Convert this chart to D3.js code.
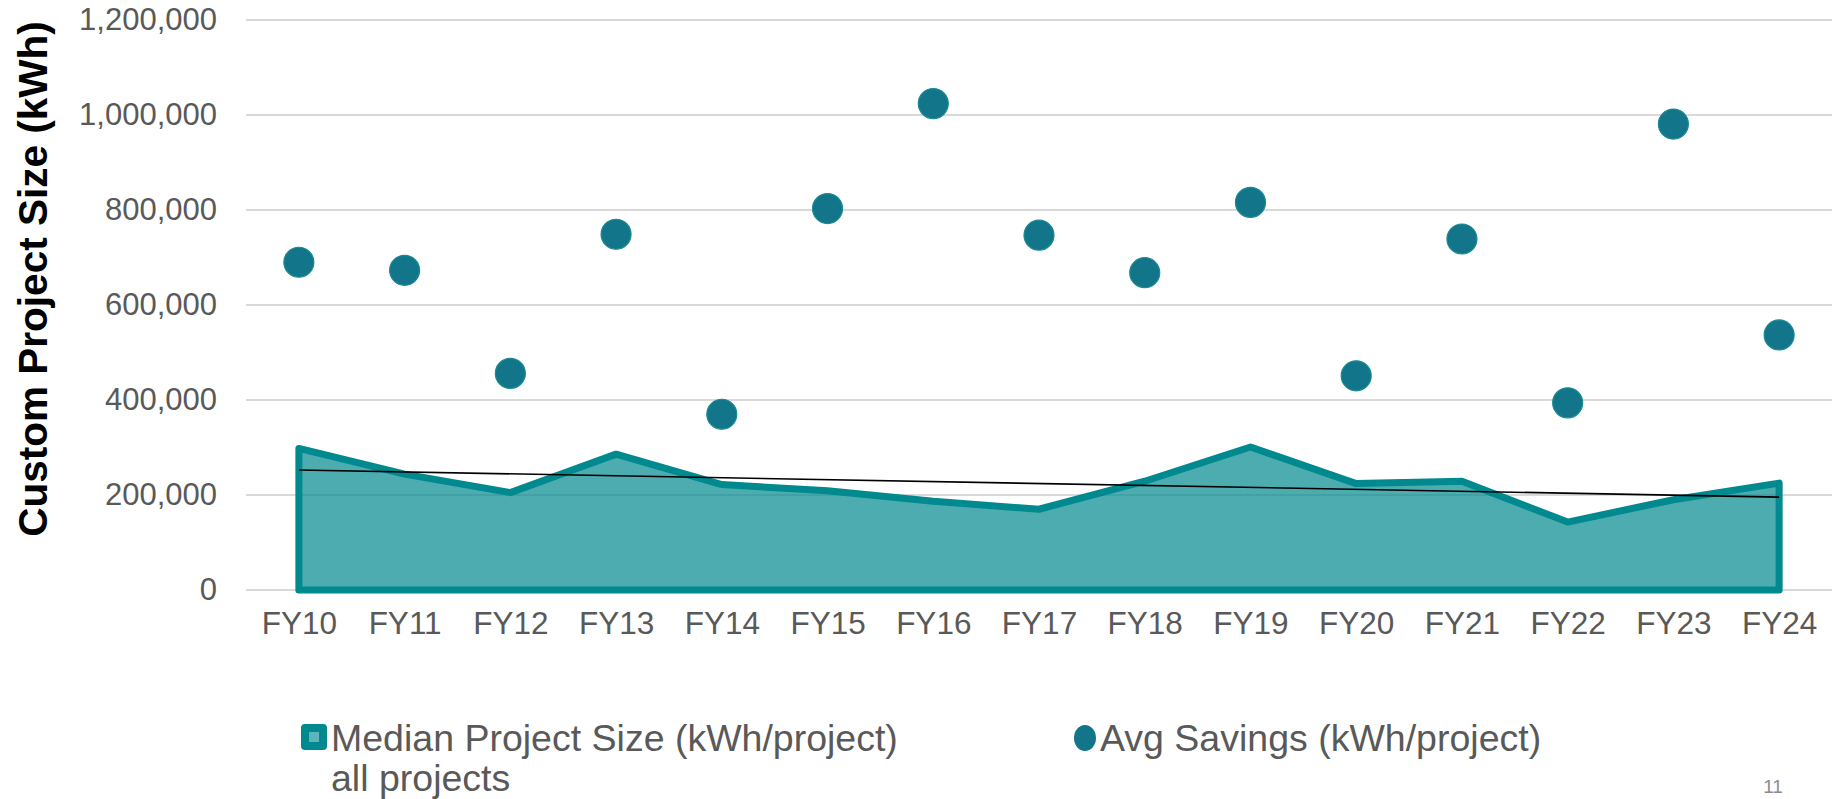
<!DOCTYPE html>
<html>
<head>
<meta charset="utf-8">
<script src="https://cdn.jsdelivr.net/npm/d3@7"></script>
<style>
  body { margin: 0; background: #fff; }
  svg { display: block; font-family: "Liberation Sans", Arial, sans-serif; }
</style>
</head>
<body>
<div id="main-chart"></div>
<script>
var years = ["FY10", "FY11", "FY12", "FY13", "FY14", "FY15", "FY16", "FY17",
  "FY18", "FY19", "FY20", "FY21", "FY22", "FY23", "FY24"];
var medianSize = [298000, 244000, 205000, 286000, 222000, 209000, 187000, 170000,
  229000, 301000, 224000, 229000, 143000, 190000, 225000];
var avgSavings = [690000, 673000, 456000, 749000, 370000, 803000, 1024000, 747000,
  668000, 816000, 451000, 739000, 394000, 981000, 537000];
var yTicks = [0, 200000, 400000, 600000, 800000, 1000000, 1200000];
var legendLabels = ["Median Project Size (kWh/project)", "all projects", "Avg Savings (kWh/project)"];

var width = 1835, height = 799;
var svg, x, y;

function setup() {
  svg = d3.select("#main-chart")
    .append("svg")
    .attr("width", width)
    .attr("height", height);

  x = d3.scalePoint().domain(years).range([246, 1832]).padding(0.5);
  y = d3.scaleLinear().domain([0, 1200000]).range([590, 20]);
}

function axes() {
  // gridlines
  svg.append("g")
    .selectAll("line")
    .data(yTicks)
    .enter()
    .append("line")
    .attr("x1", 246)
    .attr("x2", 1832)
    .attr("y1", d => y(d))
    .attr("y2", d => y(d))
    .style("stroke", "#d9d9d9")
    .style("stroke-width", 2);

  var yAxis = svg.append("g")
    .attr("transform", "translate(217,0)")
    .call(d3.axisLeft(y).tickValues(yTicks).tickSize(0).tickPadding(0).tickFormat(d3.format(",")));
  yAxis.select(".domain").remove();
  yAxis.selectAll("text")
    .style("font-size", "31px")
    .style("fill", "#595959")
    .style("font-family", "Liberation Sans, Arial, sans-serif");

  var xAxis = svg.append("g")
    .attr("transform", "translate(0,612)")
    .call(d3.axisBottom(x).tickSize(0).tickPadding(0));
  xAxis.select(".domain").remove();
  xAxis.selectAll("text")
    .style("font-size", "31.5px")
    .style("fill", "#595959")
    .style("font-family", "Liberation Sans, Arial, sans-serif");

  svg.append("text")
    .attr("transform", "translate(47,279) rotate(-90)")
    .attr("text-anchor", "middle")
    .style("font-size", "40.5px")
    .style("font-weight", "bold")
    .style("fill", "#000")
    .text("Custom Project Size (kWh)");
}

function series() {
  var pts = years.map((d, i) => ({ year: d, i: i, v: medianSize[i] }));

  var area = d3.area()
    .x(d => x(d.year))
    .y0(y(0))
    .y1(d => y(d.v));

  svg.append("path")
    .datum(pts)
    .attr("d", area)
    .style("fill", "#00898f")
    .style("fill-opacity", 0.7)
    .style("stroke", "#00898f")
    .style("stroke-width", 7)
    .style("stroke-linejoin", "round");

  // linear trendline of the median series
  var n = pts.length;
  var mx = d3.mean(pts, d => d.i), my = d3.mean(pts, d => d.v);
  var slope = d3.sum(pts, d => (d.i - mx) * (d.v - my)) / d3.sum(pts, d => (d.i - mx) * (d.i - mx));
  var trend = [pts[0], pts[n - 1]].map(d => ({ year: d.year, v: my + slope * (d.i - mx) }));

  svg.append("path")
    .datum(trend)
    .attr("d", d3.line().x(d => x(d.year)).y(d => y(d.v)))
    .style("fill", "none")
    .style("stroke", "#000")
    .style("stroke-width", 1.6);

  svg.append("g")
    .selectAll("circle")
    .data(avgSavings)
    .enter()
    .append("circle")
    .attr("cx", (d, i) => x(years[i]))
    .attr("cy", d => y(d))
    .attr("r", 15)
    .style("fill", "#13758a")
    .style("stroke", "#1a8b92")
    .style("stroke-width", 1.2);
}

function legend() {
  var g = svg.append("g");

  g.append("rect")
    .attr("x", 301).attr("y", 724)
    .attr("width", 26).attr("height", 26)
    .attr("rx", 4)
    .style("fill", "#00898f");
  g.append("rect")
    .attr("x", 309).attr("y", 732)
    .attr("width", 10).attr("height", 10)
    .style("fill", "#5db4b9");

  g.append("text")
    .attr("x", 331).attr("y", 751)
    .style("font-size", "37.5px")
    .style("fill", "#595959")
    .text(legendLabels[0]);
  g.append("text")
    .attr("x", 331).attr("y", 791)
    .style("font-size", "37.5px")
    .style("fill", "#595959")
    .text(legendLabels[1]);

  g.append("ellipse")
    .attr("cx", 1085).attr("cy", 738)
    .attr("rx", 11).attr("ry", 13)
    .style("fill", "#13758a");
  g.append("text")
    .attr("x", 1100).attr("y", 751)
    .style("font-size", "37.5px")
    .style("fill", "#595959")
    .text(legendLabels[2]);

  svg.append("text")
    .attr("x", 1773).attr("y", 793)
    .attr("text-anchor", "middle")
    .style("font-size", "19px")
    .style("fill", "#8c8c8c")
    .text("11");
}

setup();
axes();
series();
legend();
</script>
</body>
</html>
